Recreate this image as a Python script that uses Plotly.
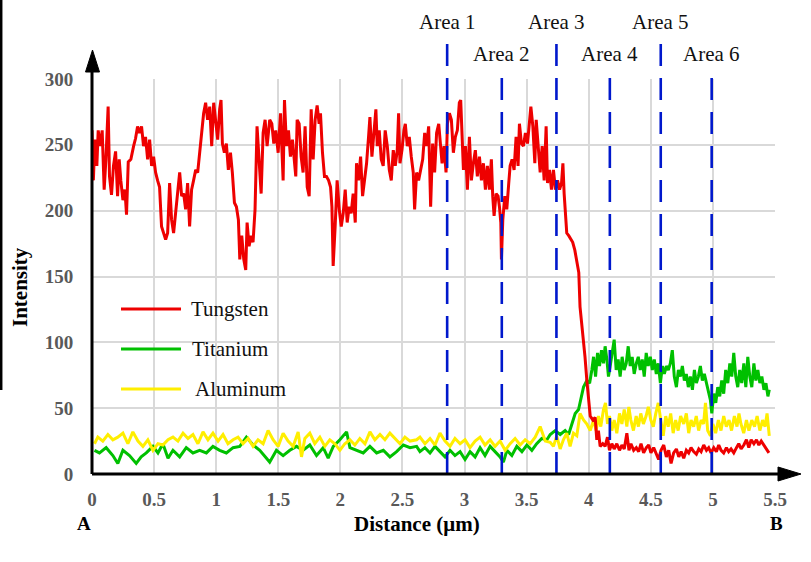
import plotly.graph_objects as go

# ---------------- data ----------------
w_dist = [0.0, 0.011, 0.023, 0.039, 0.05, 0.066, 0.082, 0.098, 0.112, 0.13, 0.141, 0.157, 0.173, 0.19, 0.206, 0.219, 0.232, 0.249, 0.265, 0.278, 0.292, 0.313, 0.335, 0.351, 0.367, 0.383, 0.399, 0.415, 0.431, 0.448, 0.464, 0.48, 0.496, 0.512, 0.528, 0.544, 0.56, 0.577, 0.593, 0.609, 0.625, 0.641, 0.657, 0.673, 0.69, 0.706, 0.722, 0.738, 0.754, 0.77, 0.786, 0.802, 0.818, 0.835, 0.851, 0.867, 0.883, 0.899, 0.915, 0.931, 0.948, 0.964, 0.98, 0.996, 1.012, 1.028, 1.039, 1.05, 1.066, 1.082, 1.098, 1.115, 1.13, 1.147, 1.163, 1.179, 1.19, 1.206, 1.222, 1.238, 1.249, 1.265, 1.281, 1.297, 1.313, 1.329, 1.345, 1.362, 1.378, 1.394, 1.41,
          1.431, 1.448, 1.464, 1.48, 1.499, 1.518, 1.529, 1.539, 1.55, 1.566, 1.582, 1.598, 1.614, 1.63, 1.641, 1.652, 1.668, 1.684, 1.7, 1.716, 1.733, 1.749, 1.765, 1.781, 1.797, 1.813, 1.829, 1.84, 1.856, 1.872, 1.888, 1.905, 1.921, 1.932, 1.942, 1.958, 1.974, 1.991, 2.007, 2.023, 2.039, 2.055, 2.071, 2.087, 2.103, 2.12, 2.13, 2.146, 2.163, 2.179, 2.195, 2.211, 2.227, 2.238, 2.254, 2.27, 2.286, 2.297, 2.313, 2.329, 2.345, 2.361, 2.378, 2.394, 2.41, 2.426, 2.442, 2.458, 2.469, 2.48, 2.496, 2.512, 2.523, 2.539, 2.555, 2.571, 2.587, 2.598, 2.614, 2.63, 2.647, 2.663, 2.679, 2.695, 2.711, 2.727, 2.743, 2.759, 2.775, 2.792,
          2.819, 2.835, 2.851, 2.862, 2.878, 2.894, 2.91, 2.926, 2.942, 2.958, 2.969, 2.98, 2.991, 3.007, 3.023, 3.039, 3.055, 3.071, 3.087, 3.103, 3.12, 3.136, 3.152, 3.168, 3.184, 3.2, 3.216, 3.227, 3.238, 3.254, 3.27, 3.281, 3.292, 3.297, 3.308, 3.324, 3.34, 3.356, 3.367, 3.383, 3.399, 3.415, 3.431, 3.442, 3.458, 3.474, 3.49, 3.507, 3.523, 3.534, 3.55, 3.566, 3.577, 3.593, 3.609, 3.625, 3.641, 3.657, 3.668, 3.684, 3.7, 3.716, 3.732, 3.749, 3.765, 3.781, 3.792, 3.802, 3.813, 3.823, 3.839, 3.855, 3.871, 3.888, 3.904, 3.92,
          3.93, 3.945, 3.958, 3.97, 3.985, 3.998, 4.012, 4.033, 4.052, 4.065, 4.078, 4.092, 4.113, 4.132, 4.151, 4.167, 4.186, 4.205, 4.226, 4.248, 4.267, 4.286, 4.307, 4.324, 4.34, 4.362, 4.383, 4.402, 4.421, 4.442, 4.464, 4.483, 4.501, 4.523, 4.544, 4.563, 4.582, 4.604, 4.625, 4.644, 4.663, 4.684, 4.706, 4.725, 4.744, 4.765, 4.786, 4.805, 4.824, 4.845, 4.867, 4.886, 4.905, 4.926, 4.948, 4.966, 4.985, 5.007, 5.028, 5.047, 5.066, 5.087, 5.109, 5.127, 5.146, 5.168, 5.19, 5.208, 5.227, 5.249, 5.27, 5.289, 5.308, 5.33, 5.351, 5.37, 5.389, 5.411, 5.432, 5.451]
w_int = [261, 223, 254, 234, 261, 249, 261, 216, 239, 279, 226, 212, 234, 245, 211, 239, 223, 208, 216, 197, 237, 239, 249, 255, 264, 259, 264, 249, 256, 239, 254, 234, 241, 229, 223, 218, 188, 183, 178, 183, 221, 193, 183, 198, 216, 229, 211, 213, 201, 221, 188, 216, 223, 231, 229, 246, 261, 274, 282, 269, 279, 249, 282, 266, 254, 277, 284, 251, 244, 251, 231, 244, 229, 206, 203, 193, 163, 181, 163, 155, 191, 173, 181, 176, 201, 264, 239, 213, 259, 269, 249,
         269, 266, 251, 261, 244, 274, 249, 223, 284, 249, 261, 241, 254, 234, 226, 269, 266, 241, 229, 264, 218, 211, 277, 239, 269, 280, 266, 274, 244, 226, 226, 223, 218, 203, 158, 188, 223, 201, 188, 198, 216, 191, 203, 198, 213, 191, 236, 223, 241, 211, 223, 236, 256, 271, 241, 259, 277, 249, 261, 239, 234, 261, 249, 231, 223, 246, 234, 246, 274, 236, 246, 261, 266, 249, 256, 241, 229, 201, 229, 223, 231, 239, 259, 249, 264, 203, 251, 229, 259, 266,
         236, 249, 229, 266, 274, 269, 244, 256, 261, 282, 284, 254, 231, 249, 216, 256, 223, 236, 246, 226, 241, 223, 236, 216, 234, 216, 239, 211, 196, 213, 211, 203, 191, 163, 193, 211, 201, 221, 234, 239, 231, 256, 234, 266, 251, 249, 259, 251, 271, 279, 264, 236, 269, 249, 229, 249, 223, 264, 221, 231, 216, 231, 216, 223, 216, 221, 236, 213, 198, 183, 181, 178, 176, 170, 160, 153,
         127, 114, 104, 89, 71, 59, 44, 41, 43, 26, 33, 21, 23, 21, 28, 18, 23, 19, 23, 18, 22, 19, 31, 18, 23, 18, 20, 17, 23, 16, 20, 22, 16, 20, 15, 11, 18, 22, 13, 18, 8, 16, 19, 13, 17, 12, 18, 16, 20, 17, 15, 19, 17, 22, 18, 20, 16, 20, 17, 22, 18, 16, 20, 17, 19, 16, 20, 23, 19, 22, 26, 20, 26, 23, 26, 22, 25, 22, 19, 16]

ti_dist = [0.02, 0.06, 0.114, 0.168, 0.208, 0.249, 0.302, 0.356, 0.396, 0.437, 0.491, 0.531, 0.571, 0.612, 0.652, 0.706, 0.759, 0.813, 0.867, 0.921, 0.974, 1.028, 1.082, 1.136, 1.19, 1.243, 1.297, 1.351, 1.405, 1.431, 1.485, 1.539, 1.593, 1.647, 1.7, 1.754, 1.808, 1.862, 1.902, 1.943, 1.996, 2.05, 2.077, 2.13, 2.184, 2.238, 2.292, 2.346, 2.399, 2.453, 2.507, 2.561, 2.614,
           2.641, 2.681, 2.722, 2.762, 2.802, 2.843, 2.883, 2.923, 2.964, 3.004, 3.044, 3.085, 3.125, 3.165, 3.206, 3.246, 3.286, 3.313, 3.341, 3.381, 3.421, 3.462, 3.502, 3.542, 3.581, 3.622, 3.663,
           3.69, 3.73, 3.77, 3.81, 3.838, 3.864, 3.891, 3.918, 3.945, 3.958, 3.985, 4.007, 4.025, 4.039, 4.055, 4.071, 4.087, 4.103, 4.119, 4.132, 4.146, 4.159, 4.173, 4.189, 4.205, 4.221, 4.237, 4.253, 4.269, 4.285, 4.302, 4.318, 4.334, 4.35, 4.366, 4.383, 4.399, 4.415, 4.431, 4.447, 4.463, 4.479, 4.496, 4.512, 4.528, 4.544, 4.56, 4.577, 4.593, 4.609, 4.625, 4.641, 4.657, 4.673, 4.689, 4.706, 4.722, 4.738, 4.754, 4.77, 4.786, 4.802, 4.818, 4.835, 4.851, 4.867, 4.883, 4.899, 4.915, 4.931, 4.948, 4.964, 4.98, 4.991, 5.007, 5.023, 5.039, 5.055, 5.071, 5.087, 5.103, 5.12, 5.136, 5.152, 5.168, 5.184, 5.2, 5.216, 5.232, 5.249, 5.265, 5.281, 5.297, 5.313, 5.33, 5.346, 5.362, 5.378, 5.394, 5.411, 5.427, 5.443, 5.454]
ti_int = [18, 16, 20, 14, 8, 18, 14, 8, 13, 16, 21, 16, 23, 12, 18, 13, 20, 16, 18, 16, 21, 18, 16, 20, 21, 28, 22, 18, 12, 9, 18, 14, 18, 21, 18, 22, 14, 20, 12, 21, 26, 32, 20, 18, 16, 21, 16, 18, 13, 17, 22, 20, 21,
          17, 20, 16, 21, 17, 13, 18, 14, 17, 11, 17, 13, 20, 14, 21, 17, 13, 9, 18, 14, 21, 17, 22, 18, 23, 27, 26,
          30, 33, 30, 33, 30, 38, 46, 49, 59, 66, 71, 69, 79, 89, 74, 92, 82, 94, 84, 97, 87, 74, 82, 92, 102, 79, 87, 74, 89, 79, 84, 97, 82, 89, 76, 84, 89, 79, 87, 74, 92, 82, 89, 79, 87, 76, 84, 69, 82, 76, 82, 79, 84, 94, 74, 66, 79, 74, 82, 71, 76, 66, 74, 64, 79, 69, 74, 82, 71, 76, 69, 64, 56, 46, 61, 54, 66, 59, 71, 61, 79, 69, 84, 74, 92, 74, 66, 79, 69, 84, 66, 89, 74, 66, 84, 71, 79, 69, 74, 64, 69, 59, 64]

al_dist = [0.02, 0.047, 0.087, 0.128, 0.168, 0.208, 0.249, 0.289, 0.329, 0.37, 0.41, 0.45, 0.491, 0.531, 0.571, 0.612, 0.652, 0.692, 0.733, 0.773, 0.813, 0.853, 0.894, 0.934, 0.974, 1.015, 1.055, 1.095, 1.136, 1.176, 1.216, 1.257, 1.297, 1.337, 1.378, 1.418, 1.458, 1.499, 1.539, 1.579, 1.62, 1.66, 1.687, 1.714, 1.754, 1.794, 1.835, 1.875, 1.915, 1.956, 1.996, 2.036, 2.077, 2.117, 2.157, 2.198, 2.238, 2.278, 2.319, 2.359, 2.399, 2.44, 2.48, 2.52, 2.561, 2.614,
           2.641, 2.681, 2.722, 2.762, 2.802, 2.843, 2.883, 2.923, 2.964, 3.004, 3.044, 3.085, 3.125, 3.165, 3.206, 3.246, 3.286, 3.327, 3.367, 3.407, 3.448, 3.488, 3.529, 3.569, 3.609, 3.65,
           3.69, 3.716, 3.742, 3.77, 3.796, 3.823, 3.85, 3.877, 3.904, 3.93, 3.958, 3.985, 4.012, 4.039, 4.06, 4.078, 4.097, 4.119, 4.135, 4.151, 4.167, 4.186, 4.205, 4.226, 4.248, 4.267, 4.286, 4.307, 4.323, 4.339, 4.36, 4.382, 4.4, 4.419, 4.44, 4.462, 4.48, 4.5, 4.52, 4.54, 4.56, 4.58, 4.6, 4.62, 4.64, 4.66, 4.68, 4.7, 4.72, 4.74, 4.765, 4.786, 4.805, 4.824, 4.845, 4.866, 4.885, 4.905, 4.925, 4.94, 4.958, 4.98, 5.0, 5.022, 5.044, 5.065, 5.087, 5.108, 5.13, 5.15, 5.173, 5.194, 5.21, 5.226, 5.248, 5.27, 5.29, 5.313, 5.335, 5.356, 5.378, 5.4, 5.42, 5.436, 5.454]
al_int = [23, 28, 25, 30, 26, 28, 31, 23, 32, 25, 21, 26, 18, 23, 22, 26, 28, 25, 31, 27, 30, 23, 32, 26, 31, 25, 30, 23, 26, 28, 23, 27, 21, 26, 23, 33, 26, 21, 31, 25, 21, 32, 13, 27, 31, 23, 28, 21, 26, 23, 18, 23, 26, 22, 27, 23, 32, 26, 30, 26, 31, 27, 23, 28, 25, 26,
          28, 23, 27, 22, 31, 25, 21, 27, 23, 26, 20, 25, 28, 22, 26, 21, 25, 18, 23, 27, 22, 26, 23, 28, 36, 25,
          24, 21, 29, 19, 26, 31, 21, 31, 29, 46, 41, 38, 33, 41, 33, 44, 36, 49, 54, 38, 44, 33, 41, 31, 46, 38, 49, 36, 51, 41, 33, 44, 36, 46, 38, 44, 51, 41, 36, 46, 54, 41, 29, 44, 36, 46, 31, 41, 33, 44, 38, 46, 31, 41, 36, 44, 33, 41, 38, 54, 33, 29, 38, 31, 41, 33, 44, 36, 41, 33, 44, 36, 46, 38, 31, 41, 33, 41, 36, 44, 33, 41, 36, 46, 29]

area_pos = [2.86, 3.30, 3.74, 4.17, 4.58, 4.99]
area_labels = ["Area 1", "Area 2", "Area 3", "Area 4", "Area 5", "Area 6"]
legend_names = ["Tungsten", "Titanium", "Aluminum"]
x_ticks = [0, 0.5, 1, 1.5, 2, 2.5, 3, 3.5, 4, 4.5, 5, 5.5]
y_ticks = [0, 50, 100, 150, 200, 250, 300]

# ---------------- styling ----------------
W, H = 811, 562
L, R, T, B = 92, 36, 79, 88
PW, PH = W - L - R, H - T - B
SERIF = "Liberation Serif, Times New Roman, serif"
COL = {"Tungsten": "#EE0000", "Titanium": "#00C000", "Aluminum": "#FFEE00"}
BLUE = "#0018CC"


def px(xp):
    return (xp - L) / PW


def py(yp):
    return (H - B - yp) / PH


fig = go.Figure()
fig.add_trace(go.Scatter(x=ti_dist, y=ti_int, mode="lines", name="Titanium",
                         line=dict(color=COL["Titanium"], width=3)))
fig.add_trace(go.Scatter(x=al_dist, y=al_int, mode="lines", name="Aluminum",
                         line=dict(color=COL["Aluminum"], width=3)))
fig.add_trace(go.Scatter(x=w_dist, y=w_int, mode="lines", name="Tungsten",
                         line=dict(color=COL["Tungsten"], width=3)))

shapes = []
annotations = []

# area dashed lines + labels
for i, (xa, lab) in enumerate(zip(area_pos, area_labels)):
    top = py(37) if i % 2 == 0 else py(71)
    shapes.append(dict(type="line", xref="x", yref="paper", x0=xa, x1=xa, y0=0, y1=top,
                       line=dict(color=BLUE, width=2.6, dash="22px,12px"), layer="above"))
    ly = py(22) if i % 2 == 0 else py(54)
    annotations.append(dict(x=xa, y=ly, xref="x", yref="paper", text=lab, showarrow=False,
                            xanchor="center", yanchor="middle",
                            font=dict(family=SERIF, size=21, color="#111111")))

# axis lines with arrowheads
shapes.append(dict(type="line", xref="paper", yref="paper", x0=px(92), x1=px(782), y0=0, y1=0,
                   line=dict(color="black", width=3), layer="above"))
shapes.append(dict(type="line", xref="paper", yref="paper", x0=0, x1=0, y0=0, y1=py(68),
                   line=dict(color="black", width=3), layer="above"))
shapes.append(dict(type="path", xref="paper", yref="paper",
                   path=f"M {px(778)} {py(467)} L {px(801)} {py(474)} L {px(778)} {py(481)} Z",
                   fillcolor="black", line=dict(color="black", width=1), layer="above"))
shapes.append(dict(type="path", xref="paper", yref="paper",
                   path=f"M {px(85.5)} {py(72)} L {px(92.5)} {py(50)} L {px(99.5)} {py(72)} Z",
                   fillcolor="black", line=dict(color="black", width=1), layer="above"))
# stray edge line from the source image
shapes.append(dict(type="line", xref="paper", yref="paper", x0=px(1.2), x1=px(1.2), y0=py(390), y1=py(0),
                   line=dict(color="black", width=2.5)))

# legend drawn manually
leg_y = [309, 349, 389]
leg_tx = [189, 190, 193]
for name, yy, tx in zip(legend_names, leg_y, leg_tx):
    shapes.append(dict(type="line", xref="paper", yref="paper", x0=px(121), x1=px(181), y0=py(yy), y1=py(yy),
                       line=dict(color=COL[name], width=3)))
    annotations.append(dict(x=px(tx), y=py(yy), xref="paper", yref="paper", text=name, showarrow=False,
                            xanchor="left", yanchor="middle",
                            font=dict(family=SERIF, size=21, color="#111111")))

# axis titles and end labels
annotations.append(dict(x=px(20), y=py(287), xref="paper", yref="paper", text="<b>Intensity</b>",
                        textangle=-90, showarrow=False, xanchor="center", yanchor="middle",
                        font=dict(family=SERIF, size=21, color="black")))
annotations.append(dict(x=px(417), y=py(524), xref="paper", yref="paper", text="<b>Distance (μm)</b>",
                        showarrow=False, xanchor="center", yanchor="middle",
                        font=dict(family=SERIF, size=21, color="black")))
annotations.append(dict(x=px(84), y=py(523), xref="paper", yref="paper", text="<b>A</b>",
                        showarrow=False, xanchor="center", yanchor="middle",
                        font=dict(family=SERIF, size=19, color="black")))
annotations.append(dict(x=px(776), y=py(523), xref="paper", yref="paper", text="<b>B</b>",
                        showarrow=False, xanchor="center", yanchor="middle",
                        font=dict(family=SERIF, size=19, color="black")))

tickfont = dict(family=SERIF, size=19, color="#595959", weight="bold")
fig.update_layout(
    width=W, height=H,
    margin=dict(l=L, r=R, t=T, b=B, pad=0),
    paper_bgcolor="white", plot_bgcolor="white",
    showlegend=False,
    xaxis=dict(range=[0, 5.5], tickvals=x_ticks, ticktext=[f"{v:g}" for v in x_ticks],
               showgrid=True, gridcolor="#D9D9D9", gridwidth=1.5, zeroline=False, showline=False,
               ticks="outside", ticklen=8, tickcolor="rgba(0,0,0,0)", tickfont=tickfont),
    yaxis=dict(range=[0, 300], tickvals=y_ticks, ticktext=[str(v) for v in y_ticks],
               showgrid=True, gridcolor="#D9D9D9", gridwidth=1.5, zeroline=False, showline=False,
               ticks="outside", ticklen=14, tickcolor="rgba(0,0,0,0)", tickfont=tickfont),
    shapes=shapes,
    annotations=annotations,
)

fig.write_html("out.html")
